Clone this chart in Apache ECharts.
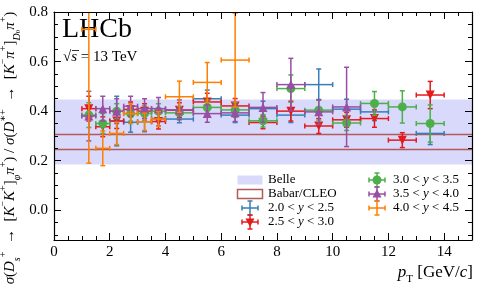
<!DOCTYPE html>
<html><head><meta charset="utf-8">
<script src="https://cdn.jsdelivr.net/npm/echarts@6/dist/echarts.min.js"></script>
<style>html,body{margin:0;padding:0;background:#fff}#c{width:479px;height:299px}</style>
</head><body><div id="c"></div>
<script>
// ---- data ----
const binCenter = [1.25, 1.75, 2.25, 2.75, 3.25, 3.75, 4.5, 5.5, 6.5, 7.5, 8.5, 9.5, 10.5, 11.5, 12.5, 13.5];
const binHalf   = [0.25, 0.25, 0.25, 0.25, 0.25, 0.25, 0.5, 0.5, 0.5, 0.5, 0.5, 0.5, 0.5, 0.5, 0.5, 0.5];

const y20Val = [null, null, 0.360, 0.355, 0.357, 0.370, 0.368, 0.450, 0.384, 0.410, 0.384, 0.507, 0.408, 0.397, null, 0.310];
const y20Err = [null, null, 0.100, 0.040, 0.040, 0.030, 0.015, 0.035, 0.030, 0.030, 0.030, 0.063, 0.040, 0.035, null, 0.045];

const y25Val = [0.410, 0.337, 0.360, 0.407, 0.400, 0.358, 0.404, 0.437, 0.421, 0.354, 0.400, 0.340, 0.365, 0.370, 0.283, 0.465];
const y25Err = [0.050, 0.040, 0.030, 0.030, 0.030, 0.030, 0.030, 0.035, 0.030, 0.025, 0.040, 0.030, 0.030, 0.035, 0.030, 0.055];

const y30Val = [0.384, 0.350, 0.400, 0.390, 0.391, 0.400, 0.393, 0.415, 0.405, 0.361, 0.491, 0.404, 0.352, 0.431, 0.417, 0.350];
const y30Err = [0.050, 0.040, 0.030, 0.030, 0.030, 0.030, 0.025, 0.030, 0.030, 0.025, 0.055, 0.040, 0.030, 0.048, 0.065, 0.075];

const y35Val = [0.380, 0.410, 0.400, 0.420, 0.410, 0.410, 0.405, 0.390, 0.393, 0.415, 0.507, 0.397, 0.417, null, null, null];
const y35Err = [0.100, 0.050, 0.050, 0.040, 0.040, 0.045, 0.040, 0.035, 0.035, 0.060, 0.106, 0.050, 0.160, null, null, null];

const y40Val = [0.730, 0.250, 0.310, 0.390, 0.357, 0.368, 0.458, 0.516, 0.606, null, null, null, null, null, null, null];
const y40Err = [0.540, 0.070, 0.045, 0.040, 0.035, 0.030, 0.063, 0.080, 0.190, null, null, null, null, null, null, null];

const belleBand = [0.185, 0.447];
const babarBand = [0.245, 0.306];

const xMajor = [0, 2, 4, 6, 8, 10, 12, 14];
const xMinor = [0.5, 1, 1.5, 2.5, 3, 3.5, 4.5, 5, 5.5, 6.5, 7, 7.5, 8.5, 9, 9.5, 10.5, 11, 11.5, 12.5, 13, 13.5, 14.5];
const yMajor = [0, 0.2, 0.4, 0.6, 0.8];
const yMinor = [-0.1, -0.05, 0.05, 0.1, 0.15, 0.25, 0.3, 0.35, 0.45, 0.5, 0.55, 0.65, 0.7, 0.75];

const X_MIN = 0, X_MAX = 15, Y_MIN = -0.12, Y_MAX = 0.8;

const C_BLUE = '#377eb8', C_RED = '#e41a1c', C_GREEN = '#4daf4a', C_PURPLE = '#984ea3', C_ORANGE = '#ff7f00';
const C_BELLE = '#d9d9fb', C_BABAR = '#b35a5a';
const SERIF = '"Liberation Serif", "DejaVu Serif", serif';

// ---- helpers ----
function errSeries(name, color, vals, errs, z) {
  const data = [];
  for (let i = 0; i < binCenter.length; i++) {
    if (vals[i] != null) data.push([binCenter[i], vals[i], binHalf[i], errs[i]]);
  }
  return {
    type: 'custom', name: name, z: z, data: data, silent: true,
    renderItem: function (params, api) {
      const x = api.value(0), y = api.value(1), hx = api.value(2), ey = api.value(3);
      const top = Math.min(y + ey, Y_MAX), bot = Math.max(y - ey, Y_MIN);
      const pL = api.coord([x - hx, y]), pR = api.coord([x + hx, y]);
      const pT = api.coord([x, top]), pB = api.coord([x, bot]);
      const c = 2.5;
      const st = { stroke: color, lineWidth: 1.5 };
      const ch = [
        { type: 'line', shape: { x1: pL[0], y1: pL[1], x2: pR[0], y2: pR[1] }, style: st },
        { type: 'line', shape: { x1: pT[0], y1: pT[1], x2: pB[0], y2: pB[1] }, style: st },
        { type: 'line', shape: { x1: pL[0], y1: pL[1] - c, x2: pL[0], y2: pL[1] + c }, style: st },
        { type: 'line', shape: { x1: pR[0], y1: pR[1] - c, x2: pR[0], y2: pR[1] + c }, style: st }
      ];
      if (y + ey <= Y_MAX) ch.push({ type: 'line', shape: { x1: pT[0] - c, y1: pT[1], x2: pT[0] + c, y2: pT[1] }, style: st });
      if (y - ey >= Y_MIN) ch.push({ type: 'line', shape: { x1: pB[0] - c, y1: pB[1], x2: pB[0] + c, y2: pB[1] }, style: st });
      return { type: 'group', children: ch };
    }
  };
}
function markerSeries(name, color, vals, symbol, size, rot, z) {
  const data = [];
  for (let i = 0; i < binCenter.length; i++) if (vals[i] != null) data.push([binCenter[i], vals[i]]);
  return { type: 'scatter', name: name, z: z, data: data, symbol: symbol, symbolSize: size, symbolRotate: rot,
    itemStyle: { color: color, opacity: 1 }, silent: true };
}
function xAx(pos, vals, len, labels, line) {
  return { type: 'value', position: pos, min: X_MIN, max: X_MAX, z: 30,
    axisLine: { show: line, onZero: false, lineStyle: { color: '#000', width: 1.2 } },
    axisTick: { show: true, inside: true, length: len, customValues: vals, lineStyle: { color: '#000', width: 1 } },
    axisLabel: labels ? { show: true, customValues: vals, color: '#000', fontFamily: SERIF, fontSize: 15, margin: 5,
      formatter: function (v) { return String(v); } } : { show: false },
    splitLine: { show: false } };
}
function yAx(pos, vals, len, labels, line) {
  return { type: 'value', position: pos, min: Y_MIN, max: Y_MAX, z: 30,
    axisLine: { show: line, onZero: false, lineStyle: { color: '#000', width: 1.2 } },
    axisTick: { show: true, inside: true, length: len, customValues: vals, lineStyle: { color: '#000', width: 1 } },
    axisLabel: labels ? { show: true, customValues: vals, color: '#000', fontFamily: SERIF, fontSize: 15, margin: 6,
      formatter: function (v) { return v.toFixed(1); } } : { show: false },
    splitLine: { show: false } };
}
function legendCross(cx, cy, color, marker) {
  const st = { stroke: color, lineWidth: 1.5 };
  const hw = 8, hh = 7, c = 2.5;
  const ch = [
    { type: 'line', shape: { x1: cx - hw, y1: cy, x2: cx + hw, y2: cy }, style: st },
    { type: 'line', shape: { x1: cx, y1: cy - hh, x2: cx, y2: cy + hh }, style: st },
    { type: 'line', shape: { x1: cx - hw, y1: cy - c, x2: cx - hw, y2: cy + c }, style: st },
    { type: 'line', shape: { x1: cx + hw, y1: cy - c, x2: cx + hw, y2: cy + c }, style: st },
    { type: 'line', shape: { x1: cx - c, y1: cy - hh, x2: cx + c, y2: cy - hh }, style: st },
    { type: 'line', shape: { x1: cx - c, y1: cy + hh, x2: cx + c, y2: cy + hh }, style: st }
  ];
  if (marker === 'circle') ch.push({ type: 'circle', shape: { cx: cx, cy: cy, r: 4.5 }, style: { fill: color } });
  if (marker === 'up') ch.push({ type: 'polygon', shape: { points: [[cx, cy - 5], [cx - 4.5, cy + 3.5], [cx + 4.5, cy + 3.5]] }, style: { fill: color } });
  if (marker === 'down') ch.push({ type: 'polygon', shape: { points: [[cx, cy + 5], [cx - 4.5, cy - 3.5], [cx + 4.5, cy - 3.5]] }, style: { fill: color } });
  return { type: 'group', z: 20, children: ch };
}
function legendText(x, y, txt) {
  return { type: 'text', x: x, y: y, z: 20, style: { text: txt, fill: '#000', font: '13px ' + SERIF,
    textAlign: 'left', textVerticalAlign: 'middle',
    rich: { i: { fontFamily: SERIF, fontSize: 13, fontStyle: 'italic' } } } };
}

const chart = echarts.init(document.getElementById('c'), null, { renderer: 'canvas' });

const col1 = 250, col1t = 268, col2 = 377, col2t = 393;
const rows = [180, 194, 208, 222];

const FS = 15, FSS = 10;
const richMath = {
  t: { fontFamily: SERIF, fontSize: FS, lineHeight: 24, color: '#000' },
  it: { fontFamily: SERIF, fontSize: FS, fontStyle: 'italic', lineHeight: 24, color: '#000' },
  sup: { fontFamily: SERIF, fontSize: FSS, lineHeight: 13, verticalAlign: 'top', color: '#000' },
  sub: { fontFamily: SERIF, fontSize: FSS, lineHeight: 13, verticalAlign: 'bottom', color: '#000' },
  subi: { fontFamily: SERIF, fontSize: FSS, fontStyle: 'italic', lineHeight: 13, verticalAlign: 'bottom', color: '#000' },
  ssup: { fontFamily: SERIF, fontSize: 7, lineHeight: 17, verticalAlign: 'bottom', color: '#000' }
};
const yTitle = '{it|σ}{t|(}{it|D}{subi|s}{sup|+}{t|  →  [}{it|K}{sup|−}{it|K}{sup|+}{t|]}{subi|φ}{it|π}{sup|+}{t|) / }{it|σ}{t|(}{it|D}{sup|∗+}{t|  →  [}{it|K}{sup|−}{it|π}{sup|+}{t|]}{subi|D}{ssup|0}{it|π}{sup|+}{t|)}';

chart.setOption({
  animation: false,
  grid: { left: 54, right: 7, top: 12, bottom: 59, containLabel: false },
  xAxis: [
    xAx('bottom', xMajor, 7, true, true),
    xAx('top', xMajor, 7, false, true),
    xAx('bottom', xMinor, 4, false, false),
    xAx('top', xMinor, 4, false, false)
  ],
  yAxis: [
    yAx('left', yMajor, 7, true, true),
    yAx('right', yMajor, 7, false, true),
    yAx('left', yMinor, 4, false, false),
    yAx('right', yMinor, 4, false, false)
  ],
  series: [
    { type: 'custom', name: 'Belle', z: 1, silent: true, data: [belleBand],
      renderItem: function (params, api) {
        const cs = params.coordSys;
        const pHi = api.coord([X_MIN, api.value(1)]), pLo = api.coord([X_MIN, api.value(0)]);
        return { type: 'rect', shape: { x: cs.x, y: pHi[1], width: cs.width, height: pLo[1] - pHi[1] }, style: { fill: C_BELLE } };
      } },
    { type: 'custom', name: 'Babar/CLEO', z: 2, silent: true, data: [babarBand],
      renderItem: function (params, api) {
        const cs = params.coordSys;
        const pHi = api.coord([X_MIN, api.value(1)]), pLo = api.coord([X_MIN, api.value(0)]);
        return { type: 'group', children: [
          { type: 'line', shape: { x1: cs.x, y1: pHi[1], x2: cs.x + cs.width, y2: pHi[1] }, style: { stroke: C_BABAR, lineWidth: 1.5 } },
          { type: 'line', shape: { x1: cs.x, y1: pLo[1], x2: cs.x + cs.width, y2: pLo[1] }, style: { stroke: C_BABAR, lineWidth: 1.5 } }
        ] };
      } },
    errSeries('2.0 < y < 2.5', C_BLUE, y20Val, y20Err, 13),
    errSeries('2.5 < y < 3.0', C_RED, y25Val, y25Err, 14),
    markerSeries('2.5 < y < 3.0 m', C_RED, y25Val, 'triangle', 9, 180, 14),
    errSeries('3.0 < y < 3.5', C_GREEN, y30Val, y30Err, 15),
    markerSeries('3.0 < y < 3.5 m', C_GREEN, y30Val, 'circle', 9, 0, 15),
    errSeries('3.5 < y < 4.0', C_PURPLE, y35Val, y35Err, 16),
    markerSeries('3.5 < y < 4.0 m', C_PURPLE, y35Val, 'triangle', 9, 0, 16),
    errSeries('4.0 < y < 4.5', C_ORANGE, y40Val, y40Err, 17)
  ],
  graphic: [
    { type: 'text', x: 62, y: 44, z: 3, style: { text: 'LHCb', fill: '#000', font: '28px ' + SERIF, textAlign: 'left', textVerticalAlign: 'bottom' } },
    { type: 'text', x: 63, y: 57, z: 3, style: { text: '√{i|s} = 13 TeV', fill: '#000', font: '15px ' + SERIF, textAlign: 'left', textVerticalAlign: 'middle',
      rich: { i: { fontFamily: SERIF, fontSize: 15, fontStyle: 'italic' } } } },
    { type: 'line', z: 3, shape: { x1: 72, y1: 50.5, x2: 79, y2: 50.5 }, style: { stroke: '#000', lineWidth: 0.8 } },
    { type: 'text', x: 10, y: 148, rotation: Math.PI / 2, z: 20, style: { text: yTitle, rich: richMath, textAlign: 'center', textVerticalAlign: 'middle', fill: '#000' } },
    { type: 'text', x: 473, y: 273, z: 20, style: { text: '{it|p}{sub|T}{t| [GeV/}{it|c}{t|]}', textAlign: 'right', textVerticalAlign: 'middle', fill: '#000',
      rich: {
        t: { fontFamily: SERIF, fontSize: 17, lineHeight: 24, color: '#000' },
        it: { fontFamily: SERIF, fontSize: 17, fontStyle: 'italic', lineHeight: 24, color: '#000' },
        sub: { fontFamily: SERIF, fontSize: 11, lineHeight: 15, verticalAlign: 'bottom', color: '#000' }
      } } },
    // legend
    { type: 'rect', z: 20, shape: { x: col1 - 12.5, y: rows[0] - 4.5, width: 25, height: 9 }, style: { fill: C_BELLE } },
    legendText(col1t, rows[0], 'Belle'),
    { type: 'rect', z: 20, shape: { x: col1 - 12.5, y: rows[1] - 4.5, width: 25, height: 9 }, style: { fill: '#fff', stroke: C_BABAR, lineWidth: 1.5 } },
    legendText(col1t, rows[1], 'Babar/CLEO'),
    legendCross(col1, rows[2], C_BLUE, null),
    legendText(col1t, rows[2], '2.0 < {i|y} < 2.5'),
    legendCross(col1, rows[3], C_RED, 'down'),
    legendText(col1t, rows[3], '2.5 < {i|y} < 3.0'),
    legendCross(col2, rows[0], C_GREEN, 'circle'),
    legendText(col2t, rows[0], '3.0 < {i|y} < 3.5'),
    legendCross(col2, rows[1], C_PURPLE, 'up'),
    legendText(col2t, rows[1], '3.5 < {i|y} < 4.0'),
    legendCross(col2, rows[2], C_ORANGE, null),
    legendText(col2t, rows[2], '4.0 < {i|y} < 4.5')
  ]
});
</script>
</body></html>
